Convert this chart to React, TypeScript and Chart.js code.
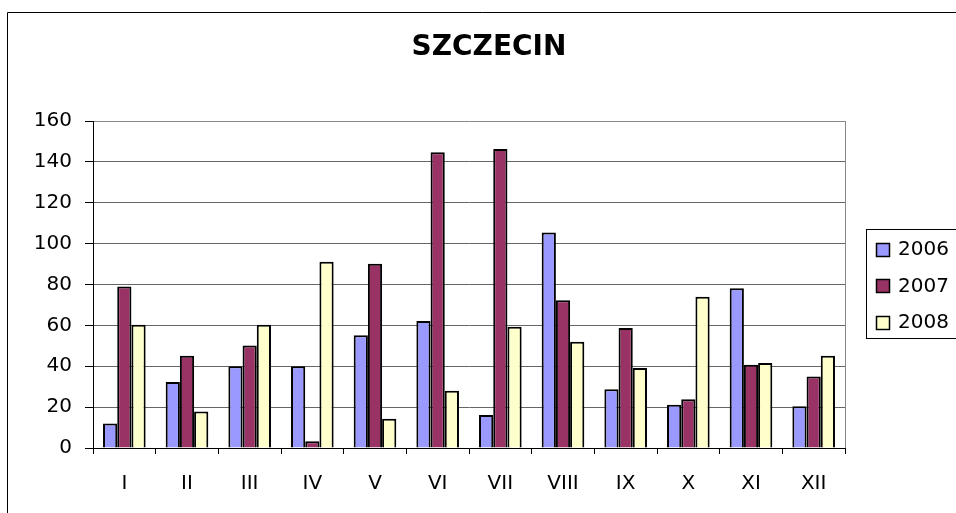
import React, { useEffect, useRef } from "react";
import { Chart, registerables } from "chart.js";

Chart.register(...registerables);

const categories = ["I", "II", "III", "IV", "V", "VI", "VII", "VIII", "IX", "X", "XI", "XII"];
const seriesLabels = ["2006", "2007", "2008"];
const values2006 = [12, 32.3, 40, 40, 55.2, 62.1, 16.1, 105.4, 28.8, 21.2, 78.2, 20.4];
const values2007 = [79, 45.1, 50.2, 3.3, 90.1, 144.7, 146.3, 72.3, 58.7, 23.8, 40.7, 35];
const values2008 = [60.3, 17.9, 60.3, 91.1, 14.3, 28, 59.3, 52, 39.1, 74, 41.6, 45.1];
const yTicks = [0, 20, 40, 60, 80, 100, 120, 140, 160];
const titleText = "SZCZECIN";

const colors = ["#9999FF", "#993366", "#FFFFCC"];
const FONT = "'DejaVu Sans', 'Liberation Sans', Arial, sans-serif";

const framePlugin = {
  id: "frameAndLegend",
  beforeDraw(chart: any) {
    const ctx = chart.ctx;
    ctx.save();
    ctx.fillStyle = "#ffffff";
    ctx.fillRect(0, 0, chart.width, chart.height);
    ctx.strokeStyle = "#000000";
    ctx.lineWidth = 1;
    ctx.beginPath();
    ctx.moveTo(7.5, chart.height + 2);
    ctx.lineTo(7.5, 12.5);
    ctx.lineTo(chart.width + 2, 12.5);
    ctx.stroke();
    ctx.restore();
  },
  afterDraw(chart: any) {
    const ctx = chart.ctx;
    const { top, bottom, right } = chart.chartArea;
    ctx.save();
    // plot area right border
    ctx.strokeStyle = "#888888";
    ctx.lineWidth = 1;
    ctx.beginPath();
    ctx.moveTo(Math.round(right) + 0.5, top);
    ctx.lineTo(Math.round(right) + 0.5, bottom);
    ctx.stroke();

    // legend
    const ds = chart.data.datasets;
    const rowH = 36.5;
    const cy = (top + bottom) / 2 + 1;
    const firstY = cy - (rowH * (ds.length - 1)) / 2;
    const lastY = firstY + rowH * (ds.length - 1);
    const boxLeft = 866.5;
    const boxTop = Math.round(firstY - 20) + 0.5;
    const boxH = Math.round(lastY + 16 - (firstY - 20));
    ctx.fillStyle = "#ffffff";
    ctx.fillRect(boxLeft, boxTop, chart.width, boxH);
    ctx.strokeStyle = "#000000";
    ctx.lineWidth = 1;
    ctx.strokeRect(boxLeft, boxTop, chart.width, boxH);
    ctx.font = "20px " + FONT;
    ctx.textBaseline = "middle";
    ctx.textAlign = "left";
    ds.forEach((d: any, i: number) => {
      const y = firstY + i * rowH;
      const bx = 876.5;
      const by = Math.round(y - 6.5) + 0.5;
      ctx.fillStyle = d.backgroundColor;
      ctx.fillRect(bx, by, 13, 13);
      ctx.strokeStyle = "#000000";
      ctx.lineWidth = 1.5;
      ctx.strokeRect(bx, by, 13, 13);
      ctx.fillStyle = "#000000";
      ctx.fillText(d.label, 898, y + 1);
    });
    ctx.restore();
  },
};

export default function App() {
  const canvasRef = useRef<HTMLCanvasElement | null>(null);

  useEffect(() => {
    if (!canvasRef.current) return;
    const seriesValues = [values2006, values2007, values2008];
    const chart = new Chart(canvasRef.current, {
      type: "bar",
      data: {
        labels: categories,
        datasets: seriesLabels.map((label, i) => ({
          label,
          data: seriesValues[i],
          backgroundColor: colors[i],
          borderColor: "#000000",
          borderWidth: 2,
          borderSkipped: "start" as const,
          categoryPercentage: 0.68,
          barPercentage: 1.0,
        })),
      },
      options: {
        animation: false,
        responsive: false,
        devicePixelRatio: 1,
        layout: { padding: { left: 22, right: 0, top: 0, bottom: 0 } },
        plugins: {
          legend: { display: false },
          tooltip: { enabled: false },
          title: {
            display: true,
            text: titleText,
            color: "#000000",
            font: { family: FONT, size: 28, weight: "bold" },
            padding: { top: 31, bottom: 56.4 },
          },
        },
        scales: {
          x: {
            offset: true,
            grid: {
              display: true,
              drawOnChartArea: false,
              drawTicks: true,
              tickLength: 6,
              tickColor: "#000000",
              offset: true,
            },
            border: { display: true, color: "#000000", width: 1 },
            ticks: {
              color: "#000000",
              font: { family: FONT, size: 20 },
              padding: 18,
              maxRotation: 0,
              autoSkip: false,
            },
            afterFit: (scale: any) => {
              scale.height = 65;
            },
          },
          y: {
            min: 0,
            max: 160,
            afterBuildTicks: (scale: any) => {
              scale.ticks = yTicks.map((v) => ({ value: v }));
            },
            grid: {
              color: (c: any) => (c.tick && c.tick.value === 160 ? "#888888" : "#666666"),
              tickColor: "#000000",
              tickLength: 8,
              lineWidth: 1,
            },
            border: { display: true, color: "#000000", width: 1 },
            ticks: {
              color: "#000000",
              font: { family: FONT, size: 20 },
              padding: 13,
            },
            afterFit: (scale: any) => {
              scale.width = 71;
            },
          },
          yRightSpace: {
            type: "linear",
            position: "right",
            display: true,
            min: 0,
            max: 160,
            grid: { display: false, drawTicks: false },
            border: { display: false },
            ticks: { display: false },
            afterFit: (scale: any) => {
              scale.width = 111;
            },
          },
        },
      },
      plugins: [framePlugin],
    });
    return () => chart.destroy();
  }, []);

  return (
    <canvas
      ref={canvasRef}
      width={956}
      height={513}
      style={{ position: "fixed", left: 0, top: 0, width: 956, height: 513, display: "block" }}
    />
  );
}
